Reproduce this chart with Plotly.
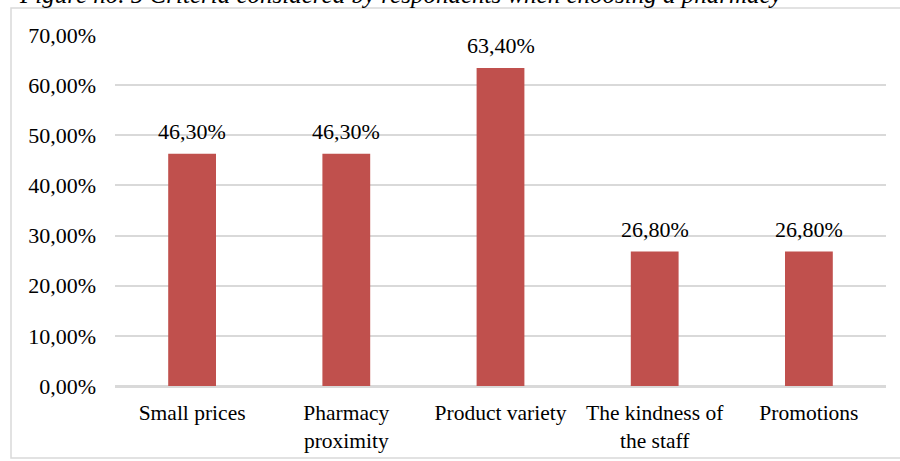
import plotly.graph_objects as go

# Survey results: criteria used when choosing a pharmacy
categories = ["Small prices", "Pharmacy<br>proximity", "Product variety",
              "The kindness of<br>the staff", "Promotions"]
shares = [46.3, 46.3, 63.4, 26.8, 26.8]
y_ticks = [0, 10, 20, 30, 40, 50, 60, 70]
title_text = "Figure no. 5 Criteria considered by respondents when choosing a pharmacy"

W, H = 900, 461
L, R, T, B = 115, 14, 35, 75
pw, ph = W - L - R, H - T - B


def px_x(px):
    return (px - L) / pw


def px_y(py):
    return (H - B - py) / ph


def pct(v):
    return f"{v:.2f}".replace(".", ",") + "%"


FONT = "Liberation Serif, Times New Roman, serif"
GRID = "#d9d9d9"

fig = go.Figure(
    go.Bar(
        x=categories,
        y=shares,
        marker=dict(color="#C0504D", line=dict(width=0)),
        width=0.31,
        hoverinfo="skip",
    )
)

# value labels above each bar
for c, v in zip(categories, shares):
    fig.add_annotation(
        x=c, y=v, text=pct(v), showarrow=False, yanchor="bottom", yshift=8,
        font=dict(family=FONT, size=22, color="#000000"),
    )

# figure caption, partly above the page
fig.add_annotation(
    xref="paper", yref="paper", x=px_x(17), y=px_y(10), xanchor="left", yanchor="bottom",
    text=f"<i>{title_text}</i>", showarrow=False,
    font=dict(family=FONT, size=25, color="#000000"),
)

# chart frame
fig.add_shape(
    type="rect", xref="paper", yref="paper",
    x0=px_x(11), x1=px_x(905), y0=px_y(458), y1=px_y(8),
    line=dict(color=GRID, width=1.5), fillcolor="rgba(0,0,0,0)", layer="below",
)

fig.update_layout(
    width=W, height=H,
    margin=dict(l=L, r=R, t=T, b=B),
    paper_bgcolor="#ffffff", plot_bgcolor="#ffffff",
    font=dict(family=FONT, size=22, color="#000000"),
    showlegend=False,
    bargap=0.69,
    xaxis=dict(
        automargin=False,
        showgrid=False, showline=True, linecolor=GRID, linewidth=1.5,
        ticks="", tickfont=dict(size=21.5), ticklabelstandoff=6,
    ),
    yaxis=dict(
        automargin=False,
        range=[0, 70], tickvals=y_ticks, ticktext=[pct(t) for t in y_ticks],
        showgrid=True, gridcolor=GRID, gridwidth=1.5,
        zeroline=True, zerolinecolor=GRID, zerolinewidth=1.5,
        showline=False, ticks="", tickfont=dict(size=22), ticklabelstandoff=18,
    ),
)

fig.write_html("out.html")
